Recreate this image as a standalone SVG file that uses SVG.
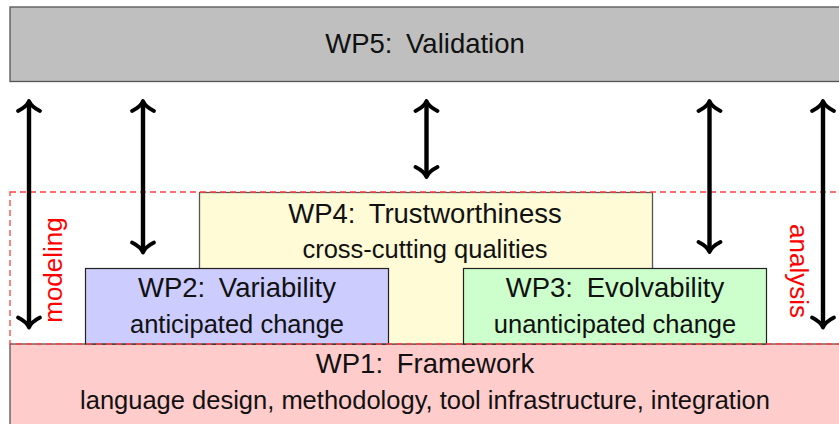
<svg xmlns="http://www.w3.org/2000/svg" width="839" height="424" viewBox="0 0 839 424">
  <style>
    text { font-family: "Liberation Sans", Arial, sans-serif; fill: #111; text-anchor: middle; }
    .t { font-size: 27.5px; }
    .s { font-size: 25.5px; }
    .lbl { font-size: 26px; fill: #ff0000; }
    .box { stroke: #555; stroke-width: 1.3; }
    .arr { stroke: #000; stroke-width: 4.4; fill: none; marker-start: url(#head); marker-end: url(#head); }
    .dash { fill: none; stroke: #ff4040; stroke-width: 1.3; stroke-dasharray: 6 4; }
  </style>
  <defs>
    <marker id="head" markerUnits="userSpaceOnUse" viewBox="-14 -14 28 28" refX="-1" refY="0" markerWidth="28" markerHeight="28" orient="auto-start-reverse">
      <path d="M -10,-11 C -7,-5 -3,-1.2 0,0 C -3,1.2 -7,5 -10,11" fill="none" stroke="#000" stroke-width="3.8" stroke-linecap="round" stroke-linejoin="round"/>
    </marker>
  </defs>

  <g id="wp5">
    <rect class="box" x="10" y="7" width="840" height="74.5" fill="#bfbfbf"/>
    <text class="t" x="425" y="53">WP5:<tspan dx="6"> Validation</tspan></text>
  </g>

  <g id="wp1">
    <rect class="box" x="10" y="344" width="840" height="100" fill="#ffcccc"/>
    <text class="t" x="425" y="373">WP1:<tspan dx="6"> Framework</tspan></text>
    <text class="s" x="425" y="408.5">language design, methodology, tool infrastructure, integration</text>
  </g>

  <g id="wp4">
    <rect class="box" x="199.5" y="192.5" width="453" height="151.5" fill="#fffbd6"/>
    <text class="t" x="425" y="223">WP4:<tspan dx="6"> Trustworthiness</tspan></text>
    <text class="s" x="425" y="258">cross-cutting qualities</text>
  </g>

  <g id="wp2">
    <rect x="85.5" y="268.5" width="303" height="75.5" fill="#ccccff" stroke="#222" stroke-width="1.2"/>
    <text class="t" x="237" y="297">WP2:<tspan dx="6"> Variability</tspan></text>
    <text class="s" x="237" y="333">anticipated change</text>
  </g>

  <g id="wp3">
    <rect x="463.5" y="268.5" width="303" height="75.5" fill="#ccffcc" stroke="#222" stroke-width="1.2"/>
    <text class="t" x="615" y="297">WP3:<tspan dx="6"> Evolvability</tspan></text>
    <text class="s" x="615" y="333">unanticipated change</text>
  </g>

  <g id="region">
    <rect class="dash" x="10" y="192" width="840" height="152"/>
    <text class="lbl" transform="translate(62,270) rotate(-90)" x="0" y="0">modeling</text>
    <text class="lbl" transform="translate(790,271) rotate(90)" x="0" y="0">analysis</text>
  </g>

  <g id="connectors">
    <line class="arr" x1="29" y1="102" x2="29" y2="326.5"/>
    <line class="arr" x1="143" y1="102" x2="143" y2="251.5"/>
    <line class="arr" x1="426.5" y1="102" x2="426.5" y2="176"/>
    <line class="arr" x1="709.5" y1="102" x2="709.5" y2="251"/>
    <line class="arr" x1="823" y1="102" x2="823" y2="326.5"/>
  </g>
</svg>
